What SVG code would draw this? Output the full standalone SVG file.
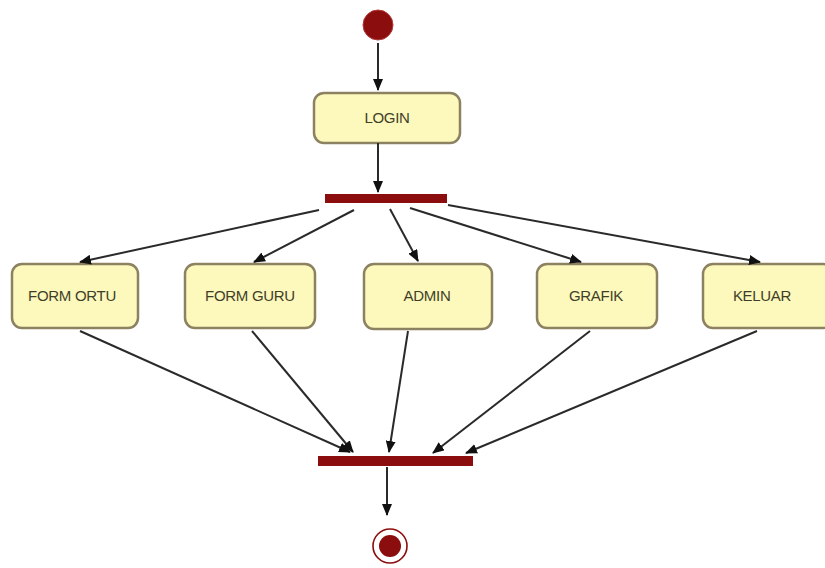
<svg xmlns="http://www.w3.org/2000/svg" width="825" height="568" viewBox="0 0 825 568">
  <style>
    .act rect { fill: #fdf8bc; stroke: #8c8262; stroke-width: 2.5; }
    .act text { font-family: "Liberation Sans", Arial, sans-serif; font-size: 15px; fill: #3f3f28; text-anchor: middle; letter-spacing: -0.3px; }
    .bar { fill: #8b0d0d; }
    .flow { stroke: #2a2a2a; stroke-width: 2; fill: none; marker-end: url(#arrow); }
  </style>
  <defs>
    <marker id="arrow" viewBox="0 0 12 10" refX="11" refY="5" markerWidth="12" markerHeight="10" markerUnits="userSpaceOnUse" orient="auto">
      <path d="M0,0 L12,5 L0,10 Z" fill="#111"/>
    </marker>
  </defs>
  <rect width="825" height="568" fill="#ffffff"/>

  <g id="start">
    <circle cx="378" cy="25" r="15" fill="#8b0d0d" stroke="#b23a3a" stroke-width="1"/>
  </g>

  <g id="login" class="act">
    <rect x="314" y="93" width="146" height="50" rx="10"/>
    <text x="387" y="123">LOGIN</text>
  </g>

  <g id="fork">
    <rect class="bar" x="325" y="194" width="122" height="9"/>
  </g>

  <g id="form-ortu" class="act">
    <rect x="12" y="264" width="126" height="64" rx="10"/>
    <text x="72" y="301">FORM ORTU</text>
  </g>
  <g id="form-guru" class="act">
    <rect x="185" y="264" width="130" height="64" rx="10"/>
    <text x="250" y="301">FORM GURU</text>
  </g>
  <g id="admin" class="act">
    <rect x="364" y="264" width="128" height="65" rx="10"/>
    <text x="427" y="301">ADMIN</text>
  </g>
  <g id="grafik" class="act">
    <rect x="537" y="264" width="120" height="64" rx="10"/>
    <text x="596" y="301">GRAFIK</text>
  </g>
  <g id="keluar" class="act">
    <rect x="703" y="264" width="130" height="64" rx="10"/>
    <text x="762" y="301">KELUAR</text>
  </g>

  <g id="join">
    <rect class="bar" x="318" y="456" width="155" height="10"/>
  </g>

  <g id="end">
    <circle cx="390" cy="546" r="17" fill="#ffffff" stroke="#8b0d0d" stroke-width="1.6"/>
    <circle cx="390" cy="546" r="11" fill="#8b0d0d"/>
  </g>

  <g id="connectors">
    <line class="flow" x1="378" y1="43" x2="378" y2="90"/>
    <line class="flow" x1="378" y1="143" x2="378" y2="192"/>
    <line class="flow" x1="319" y1="210" x2="80" y2="262"/>
    <line class="flow" x1="354" y1="210" x2="254" y2="262"/>
    <line class="flow" x1="390" y1="209" x2="418" y2="261"/>
    <line class="flow" x1="410" y1="208" x2="581" y2="262"/>
    <line class="flow" x1="448" y1="205" x2="760" y2="262"/>
    <line class="flow" x1="80" y1="331" x2="350" y2="452"/>
    <line class="flow" x1="252" y1="331" x2="353" y2="452"/>
    <line class="flow" x1="408" y1="331" x2="389" y2="452"/>
    <line class="flow" x1="590" y1="331" x2="433" y2="453"/>
    <line class="flow" x1="757" y1="331" x2="466" y2="453"/>
    <line class="flow" x1="387" y1="467" x2="387" y2="515"/>
  </g>
</svg>
